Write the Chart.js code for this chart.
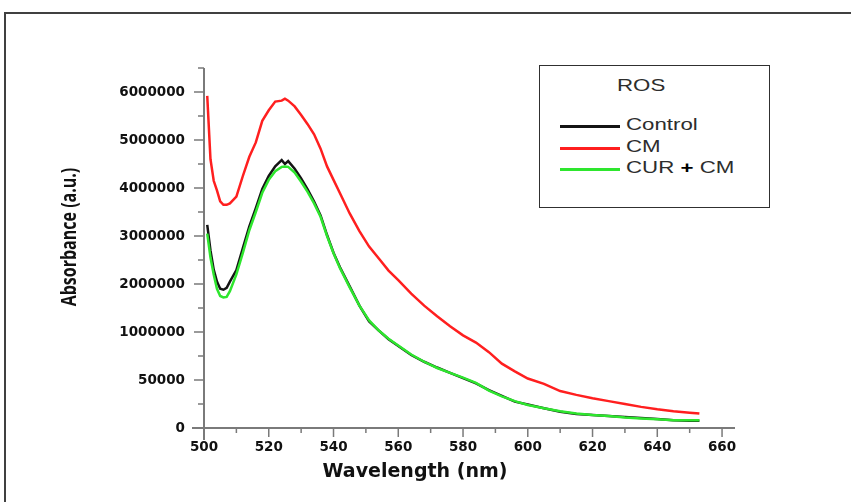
<!DOCTYPE html>
<html>
<head>
<meta charset="utf-8">
<script src="https://cdn.jsdelivr.net/npm/chart.js@4.4.0/dist/chart.umd.min.js"></script>
<style>
  body { margin: 0; width: 851px; height: 502px; overflow: hidden; background: #fff; position: relative; }
  #frame { position: absolute; left: 4px; top: 12px; width: 900px; height: 600px; border: 2px solid #404040; box-sizing: border-box; }
  #wrap { position: absolute; left: 0; top: 0; width: 851px; height: 502px; }
  #legend { position: absolute; left: 539px; top: 65px; width: 231px; height: 143px; border: 1.5px solid #303030; box-sizing: border-box; background: #fff;
            font-family: "Liberation Sans", Arial, sans-serif; font-size: 17px; color: #2d2d2d; }
  #legend .ttl, #legend .txt { position: absolute; transform: scaleX(1.31); transform-origin: left center; white-space: nowrap; line-height: 20px; }
  #legend .ln { position: absolute; left: 20px; width: 60px; height: 2.5px; }
  #legend b { color: #000; }
</style>
</head>
<body>
<div id="frame"></div>
<div id="wrap"><canvas id="rosChart" width="851" height="502"></canvas></div>
<div id="legend"></div>
<script>
// Wavelength (nm)
var wavelength = [501, 502, 503, 504, 505, 506, 507, 508, 510, 512, 514, 516, 518, 520, 522, 524,
  525, 526, 528, 530, 532, 534, 536, 538, 540, 542, 545, 548, 551, 554, 557, 560,
  564, 568, 572, 576, 580, 584, 588, 592, 596, 600, 605, 610, 615, 620, 625, 630,
  635, 640, 645, 650, 653];
// Absorbance, in steps of the labelled y ticks
var control = [4.23, 3.7, 3.3, 3.05, 2.9, 2.88, 2.92, 3.05, 3.29, 3.75, 4.2, 4.58, 4.98, 5.25, 5.45, 5.58,
  5.5, 5.56, 5.4, 5.2, 4.97, 4.72, 4.43, 4.02, 3.65, 3.35, 2.95, 2.55, 2.22, 2.03, 1.85, 1.71,
  1.52, 1.38, 1.26, 1.15, 1.04, 0.93, 0.79, 0.67, 0.55, 0.49, 0.41, 0.34, 0.29, 0.27, 0.25, 0.23,
  0.21, 0.19, 0.16, 0.15, 0.15];
var cm = [6.92, 5.6, 5.15, 4.95, 4.72, 4.65, 4.65, 4.68, 4.82, 5.25, 5.65, 5.95, 6.4, 6.62, 6.8, 6.82,
  6.86, 6.82, 6.7, 6.52, 6.33, 6.12, 5.82, 5.45, 5.17, 4.89, 4.47, 4.1, 3.78, 3.53, 3.28, 3.08,
  2.8, 2.55, 2.33, 2.12, 1.93, 1.78, 1.58, 1.34, 1.18, 1.03, 0.92, 0.77, 0.69, 0.62, 0.56, 0.5,
  0.44, 0.39, 0.35, 0.32, 0.3];
var curCm = [4.05, 3.55, 3.2, 2.9, 2.75, 2.72, 2.73, 2.85, 3.2, 3.65, 4.12, 4.5, 4.9, 5.17, 5.35, 5.44,
  5.45, 5.44, 5.32, 5.13, 4.92, 4.68, 4.4, 4.0, 3.64, 3.33, 2.93, 2.55, 2.24, 2.03, 1.86, 1.72,
  1.53, 1.38, 1.25, 1.15, 1.05, 0.94, 0.78, 0.66, 0.56, 0.48, 0.41, 0.35, 0.3, 0.27, 0.25, 0.22,
  0.2, 0.18, 0.16, 0.16, 0.16];
var xTicks = [500, 520, 540, 560, 580, 600, 620, 640, 660];
var yTickLabels = ["0", "50000", "1000000", "2000000", "3000000", "4000000", "5000000", "6000000"];
var seriesNames = ["Control", "CM", "CUR + CM"];
var seriesColors = ["#141414", "#ff1f1f", "#2ee62e"];
var seriesData = [control, cm, curCm];

function pairs(ys) {
  return wavelength.map(function (x, i) { return { x: x, y: ys[i] }; });
}

// axis lines, tick marks and axis titles
var axisFrame = {
  id: 'axisFrame',
  afterDraw: function (chart) {
    var ctx = chart.ctx, xs = chart.scales.x, ys = chart.scales.y, a = chart.chartArea;
    ctx.save();
    ctx.strokeStyle = '#7a7a7a';
    ctx.lineWidth = 2;
    ctx.beginPath();
    ctx.moveTo(a.left, a.top); ctx.lineTo(a.left, a.bottom + 12);
    ctx.moveTo(a.left - 12, a.bottom); ctx.lineTo(a.right, a.bottom);
    ctx.stroke();
    ctx.lineWidth = 1.5;
    ctx.beginPath();
    for (var v = 0.5; v <= 7.5; v += 0.5) {
      var py = ys.getPixelForValue(v);
      ctx.moveTo(a.left - (v % 1 === 0 ? 10 : 6), py); ctx.lineTo(a.left, py);
    }
    for (var w = 510; w <= 660; w += 10) {
      var px = xs.getPixelForValue(w);
      ctx.moveTo(px, a.bottom); ctx.lineTo(px, a.bottom + (w % 20 === 0 ? 9 : 5));
    }
    ctx.stroke();

    ctx.fillStyle = '#111';
    ctx.textAlign = 'center';
    ctx.font = 'bold 19px "DejaVu Sans"';
    ctx.textBaseline = 'alphabetic';
    ctx.fillText('Wavelength (nm)', 415, 477);

    ctx.translate(70, 237);
    ctx.scale(1.3, 1);
    ctx.rotate(-Math.PI / 2);
    ctx.font = 'bold 16px "Open Sans"';
    ctx.textBaseline = 'middle';
    ctx.fillText('Absorbance (a.u.)', 0, 0, 143);
    ctx.restore();
  }
};

new Chart(document.getElementById('rosChart'), {
  type: 'line',
  data: {
    datasets: seriesNames.map(function (name, i) {
      return {
        label: name,
        data: pairs(seriesData[i]),
        borderColor: seriesColors[i],
        borderWidth: 2.5,
        pointRadius: 0,
        tension: 0,
        fill: false,
        order: [1, 0, 0][i]
      };
    })
  },
  options: {
    responsive: false,
    animation: false,
    layout: { padding: { left: 0, top: 68, right: 116, bottom: 34 } },
    plugins: { legend: { display: false }, tooltip: { enabled: false } },
    scales: {
      x: {
        type: 'linear', min: 500, max: 664,
        grid: { display: false, drawTicks: false },
        border: { display: false },
        afterBuildTicks: function (s) { s.ticks = xTicks.map(function (v) { return { value: v }; }); },
        ticks: {
          autoSkip: false, maxRotation: 0, padding: 11, color: '#111',
          font: { family: 'DejaVu Sans', weight: 'bold', size: 13.5 }
        },
        afterFit: function (s) { s.height = 40; s.paddingLeft = 0; s.paddingRight = 0; }
      },
      y: {
        type: 'linear', min: 0, max: 7.5,
        grid: { display: false, drawTicks: false },
        border: { display: false },
        afterBuildTicks: function (s) { s.ticks = yTickLabels.map(function (t, i) { return { value: i }; }); },
        ticks: {
          autoSkip: false, padding: 19, color: '#111',
          font: { family: 'DejaVu Sans', weight: 'bold', size: 13.5 },
          callback: function (v) { return yTickLabels[v]; }
        },
        afterFit: function (s) { s.width = 204; s.paddingTop = 0; s.paddingBottom = 0; }
      }
    }
  },
  plugins: [axisFrame]
});

// legend box
var legend = document.getElementById('legend');
var html = '<div class="ttl" style="left:77px;top:10px">ROS</div>';
var rowTop = [58, 80, 101];
seriesNames.forEach(function (name, i) {
  html += '<div class="ln" style="top:' + (rowTop[i] + 1) + 'px;background:' + seriesColors[i] + '"></div>';
  html += '<div class="txt" style="left:86px;top:' + (rowTop[i] - 9) + 'px">' + name.replace('+', '<b>+</b>') + '</div>';
});
legend.innerHTML = html;
</script>
</body>
</html>
